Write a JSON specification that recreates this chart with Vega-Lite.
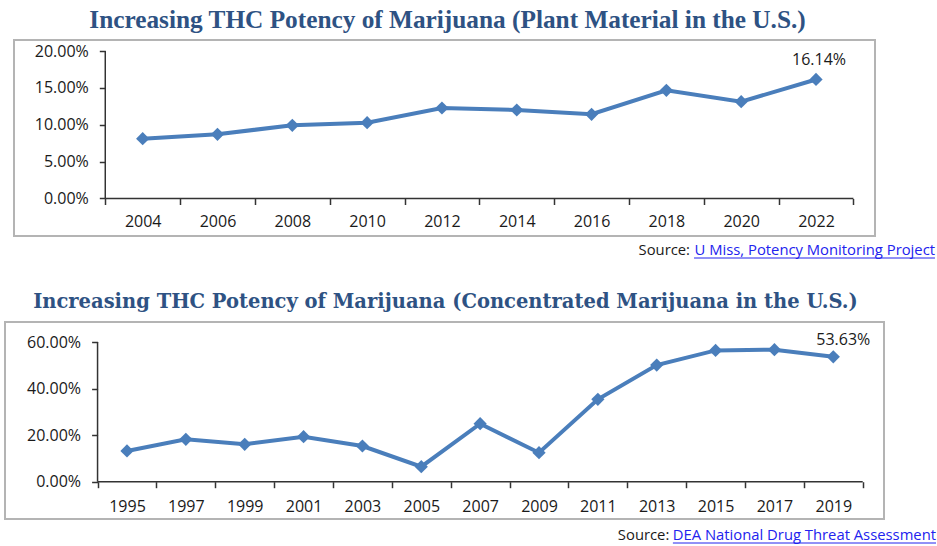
{
  "$schema": "https://vega.github.io/schema/vega-lite/v6.json",
  "padding": {"left": 4, "top": 6, "right": 0, "bottom": 0},
  "background": "white",
  "config": {
    "view": {"stroke": "#b4b4b4", "strokeWidth": 2},
    "font": "Open Sans",
    "axis": {"labelFont": "Open Sans", "labelFontSize": 16, "labelColor": "#1a1a1a", "tickColor": "#333333", "tickWidth": 1.5, "tickSize": 6, "grid": false, "domain": false, "title": null, "labelOverlap": false, "labelFlush": false, "labelBound": false}
  },
  "spacing": 86,
  "center": true,
  "bounds": "flush",
  "vconcat": [
    {
      "width": 861,
      "height": 196,
      "title": {"text": "Increasing THC Potency of Marijuana (Plant Material in the U.S.)", "font": "Liberation Serif", "fontSize": 25.3, "fontWeight": "bold", "color": "#2e5283", "anchor": "middle", "frame": "group", "baseline": "alphabetic", "offset": -12.8, "dx": 3},
      "data": {"values": [
        {"year": 2004, "thc": 0.0811},
        {"year": 2006, "thc": 0.0871},
        {"year": 2008, "thc": 0.0993},
        {"year": 2010, "thc": 0.1028},
        {"year": 2012, "thc": 0.1227},
        {"year": 2014, "thc": 0.1200},
        {"year": 2016, "thc": 0.1142},
        {"year": 2018, "thc": 0.1467},
        {"year": 2020, "thc": 0.1313},
        {"year": 2022, "thc": 0.1614}
      ]},
      "layer": [
        {
          "mark": {"type": "line", "color": "#4a7ebb", "strokeWidth": 4},
          "encoding": {
            "x": {"field": "year", "type": "quantitative", "scale": {"domain": [2000.56, 2023.577], "nice": false, "zero": false},
              "axis": {"values": [2003,2004,2005,2006,2007,2008,2009,2010,2011,2012,2013,2014,2015,2016,2017,2018,2019,2020,2021,2022,2023], "format": "d", "labelOverlap": false, "labelOpacity": {"condition": {"test": "datum.value % 2 == 0", "value": 1}, "value": 0}, "tickOpacity": {"condition": {"test": "datum.value % 2 == 0", "value": 0}, "value": 1}, "offset": -37.5, "labelPadding": 9}},
            "y": {"field": "thc", "type": "quantitative", "scale": {"domain": [-0.05085, 0.21492], "nice": false, "zero": false},
              "axis": {"values": [0, 0.05, 0.1, 0.15, 0.2], "format": ".2%", "labelOverlap": false, "offset": -91.3, "labelPadding": 11}}
          }
        },
        {
          "mark": {"type": "point", "shape": "diamond", "filled": true, "size": 175, "color": "#4a7ebb", "opacity": 1},
          "encoding": {"x": {"field": "year", "type": "quantitative"}, "y": {"field": "thc", "type": "quantitative"}}
        },
        {
          "transform": [{"filter": "datum.year == 2022"}],
          "mark": {"type": "rule", "color": "#333333", "strokeWidth": 1.5},
          "encoding": {"x": {"datum": 2003, "type": "quantitative"}, "y": {"datum": 0, "type": "quantitative"}, "y2": {"datum": 0.2}}
        },
        {
          "transform": [{"filter": "datum.year == 2022"}],
          "mark": {"type": "rule", "color": "#333333", "strokeWidth": 1.5},
          "encoding": {"x": {"datum": 2003, "type": "quantitative"}, "x2": {"datum": 2023}, "y": {"datum": 0, "type": "quantitative"}}
        },
        {
          "transform": [{"filter": "datum.year == 2022"}],
          "mark": {"type": "text", "font": "Open Sans", "fontSize": 16, "color": "#1a1a1a", "dx": 3, "dy": -19, "baseline": "middle", "align": "center"},
          "encoding": {"x": {"field": "year", "type": "quantitative"}, "y": {"field": "thc", "type": "quantitative"}, "text": {"field": "thc", "type": "quantitative", "format": ".2%"}}
        },
        {
          "transform": [{"filter": "datum.year == 2022"}],
          "mark": {"type": "text", "font": "Open Sans", "fontSize": 14.8, "color": "#1a1a1a", "dx": -126, "dy": 15, "baseline": "middle", "align": "right"},
          "encoding": {"x": {"field": "year", "type": "quantitative"}, "y": {"datum": -0.05085, "type": "quantitative"}, "text": {"value": "Source:"}}
        },
        {
          "transform": [{"filter": "datum.year == 2022"}],
          "mark": {"type": "text", "font": "Open Sans", "fontSize": 14.8, "color": "#2222ee", "dx": 119, "dy": 15, "baseline": "middle", "align": "right"},
          "encoding": {"x": {"field": "year", "type": "quantitative"}, "y": {"datum": -0.05085, "type": "quantitative"}, "text": {"value": "U Miss, Potency Monitoring Project"}}
        },
        {
          "transform": [{"filter": "datum.year == 2022"}],
          "mark": {"type": "rule", "color": "#2222ee", "strokeWidth": 1},
          "encoding": {"x": {"datum": 2018.74, "type": "quantitative"}, "x2": {"datum": 2025.18}, "y": {"datum": -0.0807, "type": "quantitative"}}
        }
      ]
    },
    {
      "width": 879,
      "height": 197,
      "title": {"text": "Increasing THC Potency of Marijuana (Concentrated Marijuana in the U.S.)", "font": "DejaVu Serif", "fontSize": 19.5, "fontWeight": "bold", "color": "#2e5283", "anchor": "middle", "frame": "group", "baseline": "alphabetic", "offset": -5.5, "dx": 1},
      "data": {"values": [
        {"year": 1995, "thc": 0.132},
        {"year": 1997, "thc": 0.182},
        {"year": 1999, "thc": 0.1606},
        {"year": 2001, "thc": 0.1933},
        {"year": 2003, "thc": 0.1533},
        {"year": 2005, "thc": 0.0644},
        {"year": 2007, "thc": 0.249},
        {"year": 2009, "thc": 0.1246},
        {"year": 2011, "thc": 0.354},
        {"year": 2013, "thc": 0.501},
        {"year": 2015, "thc": 0.564},
        {"year": 2017, "thc": 0.567},
        {"year": 2019, "thc": 0.5363}
      ]},
      "resolve": {"axis": {"x": "independent"}},
      "layer": [
        {
          "mark": {"type": "line", "color": "#4a7ebb", "strokeWidth": 4},
          "encoding": {
            "x": {"field": "year", "type": "quantitative", "scale": {"domain": [1990.855, 2020.723], "nice": false, "zero": false},
              "axis": {"orient": "bottom", "values": [1995,1997,1999,2001,2003,2005,2007,2009,2011,2013,2015,2017,2019], "format": "d", "labelOverlap": false, "ticks": true, "tickOpacity": 0, "offset": -37.3, "labelPadding": 11}},
            "y": {"field": "thc", "type": "quantitative", "scale": {"domain": [-0.1602, 0.6859], "nice": false, "zero": false},
              "axis": {"values": [0, 0.2, 0.4, 0.6], "format": ".2%", "labelOverlap": false, "offset": -92.6, "labelPadding": 11}}
          }
        },
        {
          "transform": [{"filter": "datum.year == 2019"}],
          "mark": {"type": "rule", "color": "#333333", "strokeWidth": 1.5},
          "encoding": {"x": {"datum": 1994, "type": "quantitative", "axis": {"orient": "bottom", "values": [1994,1996,1998,2000,2002,2004,2006,2008,2010,2012,2014,2016,2018,2020], "labels": false, "ticks": true, "offset": -37.3}}, "x2": {"datum": 2020}, "y": {"datum": 0, "type": "quantitative"}}
        },
        {
          "mark": {"type": "point", "shape": "diamond", "filled": true, "size": 175, "color": "#4a7ebb", "opacity": 1},
          "encoding": {"x": {"field": "year", "type": "quantitative", "axis": null}, "y": {"field": "thc", "type": "quantitative"}}
        },
        {
          "transform": [{"filter": "datum.year == 2019"}],
          "mark": {"type": "rule", "color": "#333333", "strokeWidth": 1.5},
          "encoding": {"x": {"datum": 1994, "type": "quantitative", "axis": null}, "y": {"datum": 0, "type": "quantitative"}, "y2": {"datum": 0.6}}
        },
        {
          "transform": [{"filter": "datum.year == 2019"}],
          "mark": {"type": "text", "font": "Open Sans", "fontSize": 16, "color": "#1a1a1a", "dx": 10, "dy": -17, "baseline": "middle", "align": "center"},
          "encoding": {"x": {"field": "year", "type": "quantitative", "axis": null}, "y": {"field": "thc", "type": "quantitative"}, "text": {"field": "thc", "type": "quantitative", "format": ".2%"}}
        },
        {
          "transform": [{"filter": "datum.year == 2019"}],
          "mark": {"type": "text", "font": "Open Sans", "fontSize": 14.8, "color": "#1a1a1a", "dx": -164, "dy": 17, "baseline": "middle", "align": "right"},
          "encoding": {"x": {"field": "year", "type": "quantitative", "axis": null}, "y": {"datum": -0.1602, "type": "quantitative"}, "text": {"value": "Source:"}}
        },
        {
          "transform": [{"filter": "datum.year == 2019"}],
          "mark": {"type": "text", "font": "Open Sans", "fontSize": 14.8, "color": "#2222ee", "dx": 102.7, "dy": 17, "baseline": "middle", "align": "right"},
          "encoding": {"x": {"field": "year", "type": "quantitative", "axis": null}, "y": {"datum": -0.1602, "type": "quantitative"}, "text": {"value": "DEA National Drug Threat Assessment"}}
        },
        {
          "transform": [{"filter": "datum.year == 2019"}],
          "mark": {"type": "rule", "color": "#2222ee", "strokeWidth": 1},
          "encoding": {"x": {"datum": 2013.55, "type": "quantitative", "axis": null}, "x2": {"datum": 2022.49}, "y": {"datum": -0.1602, "type": "quantitative"}, "yOffset": {"value": 24}}
        }
      ]
    }
  ]
}
